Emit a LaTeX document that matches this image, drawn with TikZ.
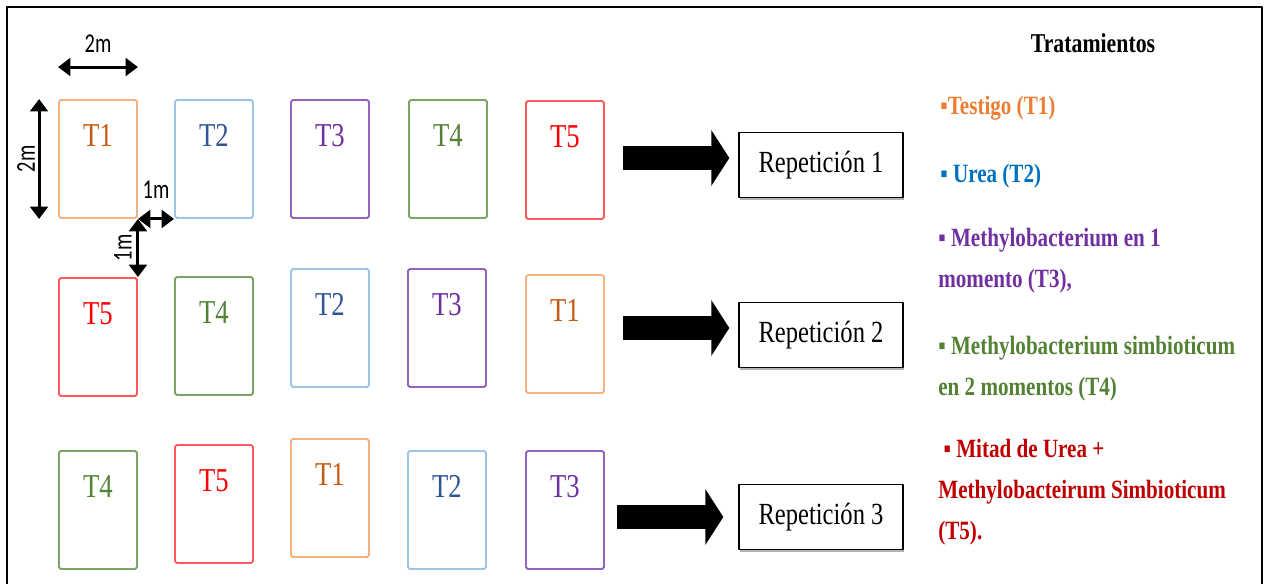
\documentclass[tikz,border=0pt]{standalone}
\usepackage{fontspec}
\setmainfont{Liberation Serif}
\newfontfamily\condserif[FakeStretch=0.8]{Liberation Serif}
\newfontfamily\dimfont[FakeStretch=0.75]{Carlito}
\usetikzlibrary{arrows.meta,shadows}

% plot outline colours
\definecolor{line1}{RGB}{244,177,131}
\definecolor{line2}{RGB}{157,195,230}
\definecolor{line3}{RGB}{150,100,190}
\definecolor{line4}{RGB}{125,165,95}
\definecolor{line5}{RGB}{255,90,90}
% plot label colours
\definecolor{text1}{RGB}{197,90,17}
\definecolor{text2}{RGB}{47,85,151}
\definecolor{text3}{RGB}{112,48,160}
\definecolor{text4}{RGB}{84,130,53}
\definecolor{text5}{RGB}{255,0,0}
% legend colours
\definecolor{leg1}{RGB}{237,125,49}
\definecolor{leg2}{RGB}{0,112,192}
\definecolor{leg3}{RGB}{112,48,160}
\definecolor{leg4}{RGB}{84,130,53}
\definecolor{leg5}{RGB}{192,0,0}

\tikzset{
  plot/.style={draw, minimum width=1.56cm, minimum height=2.36cm, line width=1.1pt, rounded corners=1pt, inner sep=0pt},
  tlbl/.style={anchor=north, yshift=-0.5cm, inner sep=0pt, font=\condserif\fontsize{19pt}{22pt}\selectfont},
  repbox/.style={draw, fill=white, line width=0.8pt, minimum width=3.28cm, minimum height=1.3cm, inner sep=0pt,
    drop shadow={shadow xshift=0.6pt, shadow yshift=-1.2pt, opacity=0.6},
    font=\condserif\fontsize{17.5pt}{20pt}\selectfont},
  bigarrow/.style={line width=0.5cm, -{Triangle[width=1.1cm,length=0.36cm]}, shorten <=0.36cm, shorten >=0.18cm},
  dimarrow/.style={line width=1.7pt, {Triangle[width=10pt,length=7pt]}-{Triangle[width=10pt,length=7pt]}},
  dimlbl/.style={inner sep=0pt, font=\dimfont\fontsize{15.5pt}{18pt}\selectfont},
  legtxt/.style={anchor=west, align=left, inner sep=0pt, font=\condserif\bfseries\fontsize{15pt}{23.5pt}\selectfont}
}

\begin{document}
\begin{tikzpicture}[x=0.02cm, y=-0.02cm, line join=round]
  \useasboundingbox (0,0) rectangle (1268,584);

  % outer frame (open at the bottom)
  \draw[line width=1.4pt] (7,584) -- (7,7) -- (1262,7) -- (1262,584);

  % plots: name/x/y/treatment
  \foreach \n/\x/\y/\t in {11/98/159/1, 12/214/159/2, 13/330/159/3, 14/448/159/4, 15/565/160/5,
                           21/98/337/5, 22/214/336/4, 23/330/328/2, 24/447/328/3, 25/565/334/1,
                           31/98/510/4, 32/214/504/5, 33/330/498/1, 34/447/510/2, 35/565/510/3} {
    \node[plot, draw=line\t, label={[tlbl, text=text\t]north:T\t}] (p\n) at (\x,\y) {};
  }

  % repetitions
  \node[repbox] (rep1) at (821,165) {Repetición 1};
  \node[repbox] (rep2) at (821,335) {Repetición 2};
  \node[repbox] (rep3) at (821,517) {Repetición 3};

  % big arrows
  \draw[bigarrow] ([yshift=0.14cm]p15.east |- rep1.west) -- ([yshift=0.14cm]rep1.west);
  \draw[bigarrow] ([yshift=0.14cm]p25.east |- rep2.west) -- ([yshift=0.14cm]rep2.west);
  \draw[bigarrow, shorten <=0.24cm, shorten >=0.3cm] (p35.east |- rep3.west) -- (rep3.west);

  % dimensions
  \draw[dimarrow] ([yshift=0.64cm]p11.north west) -- ([yshift=0.64cm]p11.north east)
    node[dimlbl, midway, yshift=0.46cm] (dimw) {2m};
  \draw[dimarrow] ([xshift=-0.38cm]p11.north west) -- ([xshift=-0.38cm]p11.south west)
    node[dimlbl, midway, rotate=90, yshift=0.26cm] (dimh) {2m};
  \draw[dimarrow] (p11.south east) -- (p12.south west)
    node[dimlbl, midway, yshift=0.58cm] (gapx) {1m};
  \draw[dimarrow] (p11.south east) -- (p11.south east |- p21.north)
    node[dimlbl, midway, rotate=90, yshift=0.3cm] (gapy) {1m};

  % legend
  \node[font=\condserif\bfseries\fontsize{15.5pt}{18pt}\selectfont] (title) at (1093,43) {Tratamientos};
  \node[legtxt, text=leg1] (leg1) at (940,108) {▪Testigo (T1)};
  \node[legtxt, text=leg2] (leg2) at (940,176) {▪ Urea (T2)};
  \node[legtxt, text=leg3] (leg3) at (938,261) {▪ Methylobacterium en 1\\momento (T3),};
  \node[legtxt, text=leg4] (leg4) at (938,369) {▪ Methylobacterium simbioticum\\en 2 momentos (T4)};
  \node[legtxt, text=leg5] (leg5) at (938,492) {\ ▪ Mitad de Urea +\\Methylobacteirum Simbioticum\\(T5).};
\end{tikzpicture}
\end{document}
